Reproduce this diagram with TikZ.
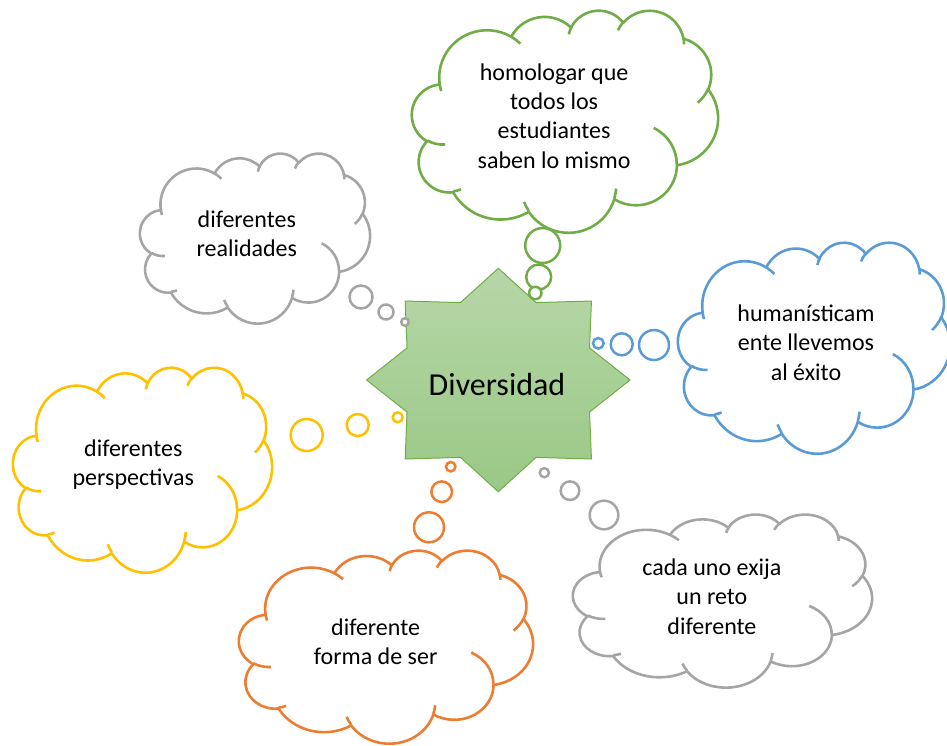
\documentclass[tikz,border=0pt]{standalone}
\usepackage{fontspec}
\setmainfont{Carlito}
\definecolor{cgreen}{HTML}{70AD47}
\definecolor{cblue}{HTML}{5B9BD5}
\definecolor{cgray}{HTML}{A5A5A5}
\definecolor{cyellow}{HTML}{FFC000}
\definecolor{corange}{HTML}{ED7D31}
\definecolor{startop}{HTML}{B6D7A8}
\definecolor{starbot}{HTML}{9AC885}

% OOXML-style arc (visual angles converted to parametric)
\newcommand\oa[4]{arc[x radius=#1, y radius=#2, start angle={oost(#1,#2,#3)}, delta angle={oodl(#1,#2,#3,#4)}]}

\newcommand\cloudouter{(3.900,14.370)
 \oa{6.753}{9.190}{-190.4875}{123.7805}
 \oa{5.333}{7.267}{-144.1024}{89.9452}
 \oa{4.365}{5.945}{-145.8079}{99.7230}
 \oa{4.857}{6.595}{-130.9861}{117.2417}
 \oa{5.333}{7.273}{-78.7089}{109.0269}
 \oa{6.775}{9.220}{-46.2673}{130.2690}
 \oa{5.785}{7.867}{0.6250}{114.0333}
 \oa{6.752}{9.215}{22.4516}{115.1726}
 \oa{7.720}{10.543}{66.2426}{75.7110}
 \oa{4.360}{5.918}{-274.9421}{146.7356}
 \oa{4.345}{5.945}{-246.8285}{152.5189} -- cycle}

\newcommand\cloudinner{(4.693,26.177) \oa{4.345}{5.945}{86.7420}{26.4295}
 (6.928,34.899) \oa{4.360}{5.918}{73.6105}{11.4475}
 (16.478,39.090) \oa{6.752}{9.215}{137.6242}{14.0811}
 (28.827,34.751) \oa{6.752}{9.215}{6.4533}{15.9984}
 (34.129,22.954) \oa{5.785}{7.867}{-70.2924}{70.9174}
 (41.798,15.354) \oa{5.333}{7.273}{30.3180}{27.7515}
 (38.324,5.426) \oa{4.857}{6.595}{-13.7443}{14.8589}
 (29.078,3.952) \oa{4.857}{6.595}{-149.1815}{18.1954}
 (22.141,4.720) \oa{4.365}{5.945}{-163.4943}{17.6864}
 (14.000,5.192) \oa{6.753}{9.190}{-66.7070}{12.3194}
 (4.127,15.789) \oa{6.753}{9.190}{157.6544}{11.8582}}

% #1 colour, #2 X0, #3 Y0, #4 W, #5 H
\newcommand\cloudshape[5]{%
 \begin{scope}[shift={(#2,#3)}, x={#4pt/43.2}, y={-#5pt/43.2}]
  \filldraw[cloudline, draw=#1, fill=white] \cloudouter;
  \draw[cloudline, draw=#1] \cloudinner;
 \end{scope}}

\begin{document}
\begin{tikzpicture}[x=1pt, y=-1pt,
  declare function={
    oost(\a,\b,\s)=atan2(\a*sin(\s),\b*cos(\s));
    oodr(\a,\b,\s,\w)=oost(\a,\b,\s+\w)-oost(\a,\b,\s);
    oodl(\a,\b,\s,\w)=oodr(\a,\b,\s,\w)+360*(\w>0)*(oodr(\a,\b,\s,\w)<0)-360*(\w<0)*(oodr(\a,\b,\s,\w)>0);
  },
  cloudline/.style={line width=2.6pt, line join=round},
  bubble/.style={circle, fill=white, line width=2.5pt, inner sep=0pt},
  ctext/.style={align=center, font=\fontsize{24}{29.3}\selectfont, text=black, inner sep=0pt},
  starline/.style={draw=cgreen, line width=1pt, top color=startop, bottom color=starbot}]
\useasboundingbox (0,0) rectangle (947,745);

% central star
\draw[starline] (630,380) \foreach \k in {1,...,15}{
  -- ({498.3+131.7*(1-0.25*mod(\k,2))*cos(\k*22.5)},{380+111.7*(1-0.25*mod(\k,2))*sin(\k*22.5)}) } -- cycle;
\node[font=\fontsize{32}{38}\selectfont, inner sep=0pt] (div) at (497,384) {Diversidad};

% clouds
\cloudshape{cgreen}{412}{10}{306}{222}
\cloudshape{cgray}{140}{153}{230}{170}
\cloudshape{cblue}{678}{242}{272}{211}
\cloudshape{cyellow}{13}{367}{259}{205}
\cloudshape{corange}{239}{550}{294}{193}
\cloudshape{cgray}{573}{514}{299}{173}

% bubbles
\node[bubble, draw=cgreen, minimum size=35pt] (g1) at (542.7,245.5) {};
\node[bubble, draw=cgreen, minimum size=25pt] (g2) at (538.7,277) {};
\node[bubble, draw=cgreen, minimum size=12.4pt] (g3) at (535.3,293) {};

\node[bubble, draw=cgray, minimum size=23pt] (a1) at (361,297) {};
\node[bubble, draw=cgray, minimum size=15pt] (a2) at (386,312) {};
\node[bubble, draw=cgray, minimum size=7.6pt] (a3) at (405,322) {};

\node[bubble, draw=cblue, minimum size=30pt] (b1) at (654,345) {};
\node[bubble, draw=cblue, minimum size=22pt] (b2) at (621.7,344.3) {};
\node[bubble, draw=cblue, minimum size=10.6pt] (b3) at (598.3,343.3) {};

\node[bubble, draw=cyellow, minimum size=32pt] (y1) at (306.7,435) {};
\node[bubble, draw=cyellow, minimum size=22pt] (y2) at (357.7,425) {};
\node[bubble, draw=cyellow, minimum size=10pt] (y3) at (397.7,417.3) {};

\node[bubble, draw=corange, minimum size=30pt] (o1) at (429,527.3) {};
\node[bubble, draw=corange, minimum size=20.6pt] (o2) at (441.7,491.7) {};
\node[bubble, draw=corange, minimum size=9.4pt] (o3) at (450.7,466.7) {};

\node[bubble, draw=cgray, minimum size=28.6pt] (r1) at (604,515) {};
\node[bubble, draw=cgray, minimum size=18.6pt] (r2) at (570,490.7) {};
\node[bubble, draw=cgray, minimum size=9.2pt] (r3) at (544.3,472.7) {};

% texts
\node[ctext] (tgreen) at (554.1,116) {homologar que\\todos los\\estudiantes\\saben lo mismo};
\node[ctext] (tgray) at (246.8,234) {diferentes\\realidades};
\node[ctext] (tblue) at (806,342.6) {humanísticam\\ente llevemos\\al éxito};
\node[ctext] (tyellow) at (133.3,464.8) {diferentes\\perspectivas};
\node[ctext] (torange) at (375.6,642) {diferente\\forma de ser};
\node[ctext] (tgray2) at (711.9,596.5) {cada uno exija\\un reto\\diferente};
\end{tikzpicture}
\end{document}
